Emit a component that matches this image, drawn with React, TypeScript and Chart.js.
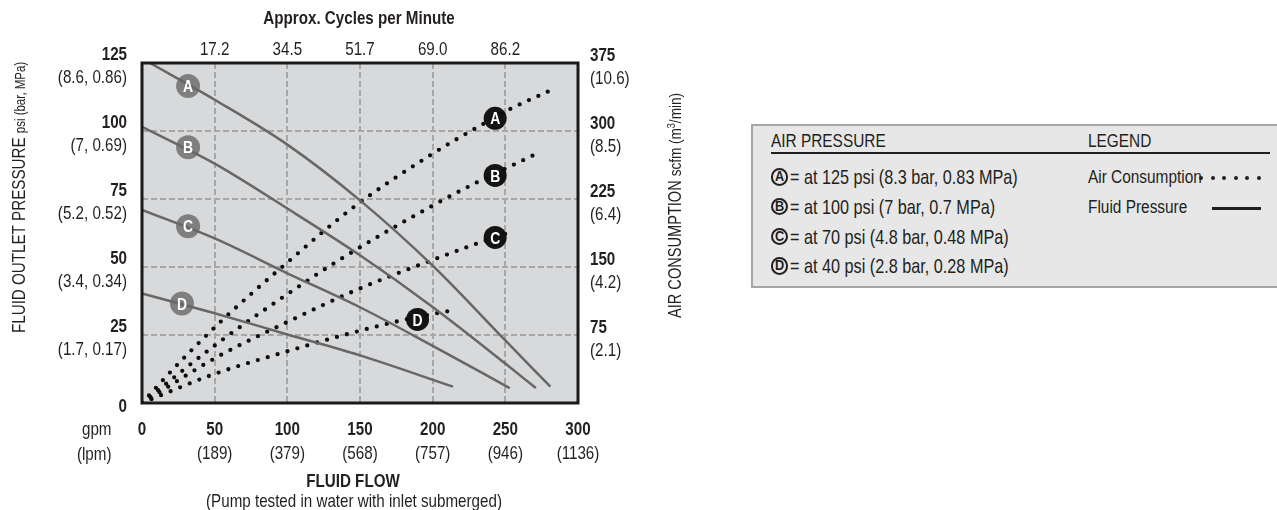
import React, { useEffect, useRef } from 'react';
import { Chart, registerables } from 'chart.js';

Chart.register(...registerables);

const FONT = "'Liberation Sans', Arial, sans-serif";
const TEXT = '#231f20';
const SX = 0.82; // horizontal squeeze to mimic a condensed face

// ---------- axis ticks & labels ----------
const gpmTicks = [0, 50, 100, 150, 200, 250, 300];
const lpmLabels = ['', '(189)', '(379)', '(568)', '(757)', '(946)', '(1136)'];
const cycleTicks = [50, 100, 150, 200, 250];
const cycleLabels = ['17.2', '34.5', '51.7', '69.0', '86.2'];
const psiTicks = [0, 25, 50, 75, 100, 125];
const psiSubLabels = ['', '(1.7, 0.17)', '(3.4, 0.34)', '(5.2, 0.52)', '(7, 0.69)', '(8.6, 0.86)'];
const scfmTicks = [75, 150, 225, 300, 375];
const scfmSubLabels = ['(2.1)', '(4.2)', '(6.4)', '(8.5)', '(10.6)'];

// ---------- fluid pressure curves (gpm -> psi) ----------
const fluidA_gpm = [5.5, 50, 100, 150, 200, 250, 281];
const fluidA_psi = [125, 111.5, 95, 74.5, 50.5, 23, 6];
const fluidB_gpm = [0, 50, 100, 150, 200, 250, 271];
const fluidB_psi = [101.5, 88, 71.5, 54.3, 35.3, 14.5, 5.5];
const fluidC_gpm = [0, 50, 100, 150, 200, 253];
const fluidC_psi = [71, 60.5, 47.7, 35.2, 21, 5.5];
const fluidD_gpm = [0, 50, 100, 150, 214];
const fluidD_psi = [40.3, 33, 25.2, 17.5, 6];

// ---------- air consumption curves (gpm -> scfm) ----------
const airA_gpm = [0, 26, 57, 100, 144, 198, 235, 253, 280];
const airA_scfm = [0, 45, 94, 155, 214, 273, 308, 324, 344];
const airB_gpm = [0, 53, 100, 136, 198, 230, 256, 269];
const airB_scfm = [0, 67, 120, 158, 216, 243, 263, 273];
const airC_gpm = [0, 52, 97, 148, 202, 229, 256];
const airC_scfm = [0, 51, 87, 125, 159, 175, 190];
const airD_gpm = [0, 49, 97, 139, 181, 216];
const airD_scfm = [0, 31.5, 55.6, 75, 92, 103];

// ---------- curve markers ----------
const markLetters = ['A', 'B', 'C', 'D'];
const grayMark_gpm = [31.7, 31.7, 31.7, 27.5];
const grayMark_psi = [116.5, 94, 65, 36.6];
const blackMark_gpm = [243, 243, 243, 189.6];
const blackMark_scfm = [314, 251, 182.6, 92.2];

// ---------- legend ----------
const legendTexts = [
  '= at 125 psi (8.3 bar, 0.83 MPa)',
  '= at 100 psi (7 bar, 0.7 MPa)',
  '= at 70 psi (4.8 bar, 0.48 MPa)',
  '= at 40 psi (2.8 bar, 0.28 MPa)',
];

function txt(ctx: CanvasRenderingContext2D, s: string, x: number, cy: number, size: number, weight: string, align: CanvasTextAlign) {
  ctx.save();
  ctx.font = `${weight} ${size}px ${FONT}`;
  ctx.textAlign = align;
  ctx.textBaseline = 'alphabetic';
  ctx.translate(x, cy + size * 0.36);
  ctx.scale(SX, 1);
  ctx.fillText(s, 0, 0);
  ctx.restore();
}

const plotPlugin = {
  id: 'plotDecor',
  beforeDraw(chart: any) {
    const { ctx, chartArea: a } = chart;
    ctx.save();
    ctx.fillStyle = '#d8d9db';
    ctx.fillRect(a.left, a.top, a.right - a.left, a.bottom - a.top);
    ctx.restore();
  },
  afterDatasetsDraw(chart: any) {
    const ctx: CanvasRenderingContext2D = chart.ctx;
    ctx.save();
    ctx.fillStyle = '#ffffff';
    [8, 9].forEach((idx) => {
      const meta = chart.getDatasetMeta(idx);
      meta.data.forEach((el: any, i: number) => {
        txt(ctx, markLetters[i], el.x, el.y, 17, 'bold', 'center');
      });
    });
    const a = chart.chartArea;
    ctx.strokeStyle = '#1a1a1a';
    ctx.lineWidth = 3;
    ctx.strokeRect(a.left, a.top, a.right - a.left, a.bottom - a.top);
    ctx.restore();
  },
  afterDraw(chart: any) {
    const ctx: CanvasRenderingContext2D = chart.ctx;
    const xs = chart.scales.x;
    const ys = chart.scales.y;
    const y2 = chart.scales.y2;
    ctx.save();
    ctx.fillStyle = TEXT;
    // left psi ticks
    psiTicks.forEach((v, i) => {
      const py = ys.getPixelForValue(v);
      if (psiSubLabels[i]) {
        txt(ctx, String(v), 127, py - 10, 18.5, 'bold', 'right');
        txt(ctx, psiSubLabels[i], 127, py + 13, 18.5, 'normal', 'right');
      } else {
        txt(ctx, String(v), 127, py + 2, 18.5, 'bold', 'right');
      }
    });
    // right scfm ticks
    scfmTicks.forEach((v, i) => {
      const py = y2.getPixelForValue(v);
      txt(ctx, String(v), 590, py - 9, 18.5, 'bold', 'left');
      txt(ctx, scfmSubLabels[i], 590, py + 14, 18.5, 'normal', 'left');
    });
    // bottom gpm ticks
    gpmTicks.forEach((v, i) => {
      const px = xs.getPixelForValue(v);
      txt(ctx, String(v), px, 428, 18.5, 'bold', 'center');
      if (lpmLabels[i]) txt(ctx, lpmLabels[i], px, 452, 18.5, 'normal', 'center');
    });
    txt(ctx, 'gpm', 111.5, 428, 18.5, 'normal', 'right');
    txt(ctx, '(lpm)', 111.5, 453, 18.5, 'normal', 'right');
    // top cycles ticks
    cycleTicks.forEach((v, i) => {
      const px = xs.getPixelForValue(v);
      txt(ctx, cycleLabels[i], px, 48, 18.5, 'normal', 'center');
    });
    txt(ctx, 'Approx. Cycles per Minute', 359, 17, 18.5, 'bold', 'center');
    txt(ctx, 'FLUID FLOW', 353, 480, 18.5, 'bold', 'center');
    txt(ctx, '(Pump tested in water with inlet submerged)', 354, 500, 18.5, 'normal', 'center');

    // left vertical title
    ctx.save();
    ctx.translate(18.3 + 0.36 * 18.5, 333);
    ctx.rotate(-Math.PI / 2);
    ctx.scale(SX, 1);
    ctx.textAlign = 'left';
    ctx.textBaseline = 'alphabetic';
    ctx.font = `normal 18.5px ${FONT}`;
    const p1 = 'FLUID OUTLET PRESSURE ';
    ctx.fillText(p1, 0, 0);
    let w = ctx.measureText(p1).width;
    ctx.font = `normal 14px ${FONT}`;
    ctx.fillText('psi (bar, MPa)', w, 0);
    ctx.restore();

    // right vertical title
    ctx.save();
    ctx.translate(675 + 0.36 * 17.8, 318);
    ctx.rotate(-Math.PI / 2);
    ctx.scale(SX, 1);
    ctx.textAlign = 'left';
    ctx.textBaseline = 'alphabetic';
    ctx.font = `normal 17.8px ${FONT}`;
    const q1 = 'AIR CONSUMPTION ';
    ctx.fillText(q1, 0, 0);
    w = ctx.measureText(q1).width;
    ctx.font = `normal 16.5px ${FONT}`;
    ctx.fillText('scfm (m', w, 0);
    w += ctx.measureText('scfm (m').width;
    ctx.font = `normal 11px ${FONT}`;
    ctx.fillText('3', w, -6.5);
    w += ctx.measureText('3').width;
    ctx.font = `normal 16.5px ${FONT}`;
    ctx.fillText('/min)', w, 0);
    ctx.restore();

    ctx.restore();
  },
};

const gridColor = (max: number) => (c: any) =>
  c.tick && c.tick.value > 0 && c.tick.value < max ? '#a7a7a7' : 'rgba(0,0,0,0)';

function Circled({ letter, cx, cy }: { letter: string; cx: number; cy: number }) {
  const d = 17.5;
  return (
    <div
      style={{
        position: 'absolute',
        left: cx - d / 2,
        top: cy - d / 2,
        width: d,
        height: d,
        boxSizing: 'border-box',
        border: `2.4px solid ${TEXT}`,
        borderRadius: '50%',
        fontFamily: FONT,
        fontWeight: 'bold',
        fontSize: 15.5,
        lineHeight: `${d - 4.8}px`,
        textAlign: 'center',
        color: TEXT,
      }}
    >
      <span style={{ display: 'inline-block', transform: `scaleX(${SX})` }}>{letter}</span>
    </div>
  );
}

function Label({ text, left, cy, size = 18.8, weight = 'normal' }: { text: string; left: number; cy: number; size?: number; weight?: string }) {
  const h = 24;
  return (
    <div
      style={{
        position: 'absolute',
        left,
        top: cy - h / 2,
        height: h,
        lineHeight: `${h}px`,
        whiteSpace: 'nowrap',
        fontFamily: FONT,
        fontSize: size,
        fontWeight: weight as any,
        color: TEXT,
        transform: `scaleX(${SX})`,
        transformOrigin: 'left center',
      }}
    >
      {text}
    </div>
  );
}

export default function App() {
  const ref = useRef<HTMLCanvasElement>(null);

  useEffect(() => {
    document.body.style.margin = '0';
    const canvas = ref.current!;
    const mk = (xs: number[], ys: number[]) => xs.map((x, i) => ({ x, y: ys[i] }));
    const fluidStyle: any = {
      borderColor: '#676767',
      borderWidth: 2.5,
      pointRadius: 0,
      cubicInterpolationMode: 'monotone',
      fill: false,
      yAxisID: 'y',
    };
    const airStyle: any = {
      borderColor: '#0e0e0e',
      borderWidth: 4.3,
      borderDash: [0, 10.3],
      borderCapStyle: 'round',
      pointRadius: 0,
      cubicInterpolationMode: 'monotone',
      fill: false,
      yAxisID: 'y2',
    };
    const chart = new Chart(canvas, {
      type: 'line',
      data: {
        datasets: [
          { label: 'Fluid Pressure A', data: mk(fluidA_gpm, fluidA_psi), ...fluidStyle },
          { label: 'Fluid Pressure B', data: mk(fluidB_gpm, fluidB_psi), ...fluidStyle },
          { label: 'Fluid Pressure C', data: mk(fluidC_gpm, fluidC_psi), ...fluidStyle },
          { label: 'Fluid Pressure D', data: mk(fluidD_gpm, fluidD_psi), ...fluidStyle },
          { label: 'Air Consumption A', data: mk(airA_gpm, airA_scfm), ...airStyle },
          { label: 'Air Consumption B', data: mk(airB_gpm, airB_scfm), ...airStyle },
          { label: 'Air Consumption C', data: mk(airC_gpm, airC_scfm), ...airStyle },
          { label: 'Air Consumption D', data: mk(airD_gpm, airD_scfm), ...airStyle },
          {
            label: 'Fluid markers',
            data: mk(grayMark_gpm, grayMark_psi),
            showLine: false,
            pointRadius: 12,
            pointHoverRadius: 12,
            pointBackgroundColor: '#7f7f7f',
            pointBorderColor: '#7f7f7f',
            pointBorderWidth: 0,
            yAxisID: 'y',
          } as any,
          {
            label: 'Air markers',
            data: mk(blackMark_gpm, blackMark_scfm),
            showLine: false,
            pointRadius: 11.5,
            pointHoverRadius: 11.5,
            pointBackgroundColor: '#141414',
            pointBorderColor: '#141414',
            pointBorderWidth: 0,
            yAxisID: 'y2',
          } as any,
        ],
      },
      options: {
        responsive: false,
        animation: false,
        events: [],
        layout: { padding: { left: 142, right: 162, top: 63, bottom: 107 } },
        plugins: { legend: { display: false }, tooltip: { enabled: false } },
        scales: {
          x: {
            type: 'linear',
            min: 0,
            max: 300,
            ticks: { display: false, stepSize: 50 },
            grid: { color: gridColor(300), lineWidth: 2, drawTicks: false },
            border: { display: false, dash: [6, 3] },
            afterFit: (s: any) => {
              s.height = 0;
            },
          },
          y: {
            type: 'linear',
            min: 0,
            max: 125,
            ticks: { display: false, stepSize: 25 },
            grid: { color: gridColor(125), lineWidth: 2, drawTicks: false },
            border: { display: false, dash: [6, 3] },
            afterFit: (s: any) => {
              s.width = 0;
            },
          },
          y2: {
            type: 'linear',
            position: 'right',
            min: 0,
            max: 375,
            ticks: { display: false, stepSize: 75 },
            grid: { display: false, drawTicks: false },
            border: { display: false },
            afterFit: (s: any) => {
              s.width = 0;
            },
          },
        } as any,
      },
      plugins: [plotPlugin],
    });
    return () => chart.destroy();
  }, []);

  const rowY = [177, 206.5, 236.5, 266];
  const dotX = [1201, 1212.5, 1224, 1235.5, 1247, 1258.5];

  return (
    <div style={{ position: 'relative', width: 1277, height: 510, overflow: 'hidden', background: '#fff' }}>
      <canvas ref={ref} width={740} height={510} style={{ position: 'absolute', left: 0, top: 0, width: 740, height: 510 }} />
      <div
        style={{
          position: 'absolute',
          left: 751,
          top: 124,
          width: 560,
          height: 164,
          boxSizing: 'border-box',
          border: '2px solid #a6a6a6',
          background: '#e7e7e7',
        }}
      />
      <Label text="AIR PRESSURE" left={771} cy={141} />
      <Label text="LEGEND" left={1088} cy={141} />
      <div style={{ position: 'absolute', left: 771, top: 152, width: 499, height: 1.5, background: TEXT }} />
      {markLetters.map((l, i) => (
        <React.Fragment key={l}>
          <Circled letter={l} cx={779.5} cy={rowY[i]} />
          <Label text={legendTexts[i]} left={790} cy={rowY[i]} size={19.8} />
        </React.Fragment>
      ))}
      <Label text="Air Consumption" left={1088} cy={rowY[0]} />
      {dotX.map((x) => (
        <div key={x} style={{ position: 'absolute', left: x - 2, top: 178 - 2, width: 4, height: 4, borderRadius: '50%', background: TEXT }} />
      ))}
      <Label text="Fluid Pressure" left={1088} cy={rowY[1]} />
      <div style={{ position: 'absolute', left: 1212, top: 207, width: 49, height: 2.5, background: TEXT }} />
    </div>
  );
}
